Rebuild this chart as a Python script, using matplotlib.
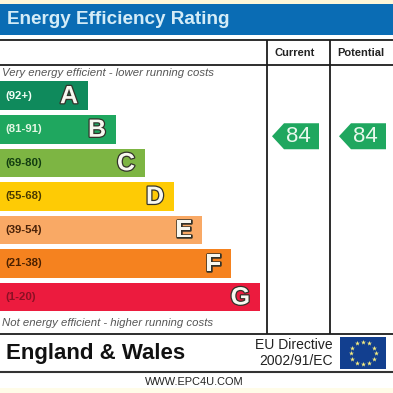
import numpy as np
import matplotlib
matplotlib.use('Agg')
import matplotlib.pyplot as plt
import matplotlib.patheffects as pe
from matplotlib.patches import Polygon, Rectangle

plt.rcParams['font.family'] = ['Liberation Sans', 'DejaVu Sans']

# ------------------------------------------------------- #

letters = ['A', 'B', 'C', 'D', 'E', 'F', 'G']
ranges = ['(92+)', '(81-91)', '(69-80)', '(55-68)', '(39-54)', '(21-38)', '(1-20)']
bar_lengths = [88, 116, 145, 174, 202, 231, 260]
bar_colors = ['#0f8a5c', '#1fa75f', '#7db543', '#fecb05', '#f9a965', '#f5821f', '#ec1b3e']
range_colors = ['#f2fff5', '#e4f7e4', '#123d10', '#4a3a00', '#4a2208', '#4a2000', '#8a1024']
current_rating = 84
potential_rating = 84

# ------------------------------------------------------- #

fig = plt.figure(figsize=(3.93, 3.93), dpi=100, facecolor='white')
ax = fig.add_axes([0, 0, 1, 1])
ax.set_xlim(0, 393)
ax.set_ylim(393, 0)
ax.axis('off')

# strips along the top and bottom, then the header
ax.add_patch(Rectangle((0, 0), 393, 3.5, color='#fdf6d8', lw=0))
ax.add_patch(Rectangle((0, 388), 393, 5, color='#fffce8', lw=0))
ax.add_patch(Rectangle((0, 3.5), 393, 31.5, color='#0a6cb4', lw=0))
ax.text(7, 20, 'Energy Efficiency Rating', color='#d4ecf7', fontsize=13.6,
        fontweight='bold', va='center', ha='left')

# table lines
for y in [40, 64.5, 334]:
    ax.plot([0, 393], [y, y], color='#1c1c1c', lw=1.3, solid_capstyle='butt')
ax.plot([0, 393], [372, 372], color='#333333', lw=1.5, solid_capstyle='butt')
for x in [266.5, 329.5]:
    ax.plot([x, x], [40, 334], color='#1c1c1c', lw=1.3, solid_capstyle='butt')

ax.text(295, 52.5, 'Current', fontsize=8, fontweight='bold', ha='center', va='center', color='#222222')
ax.text(360.5, 52.5, 'Potential', fontsize=8, fontweight='bold', ha='center', va='center', color='#222222')

ax.text(2, 73.5, 'Very energy efficient - lower running costs', fontsize=8.2, style='italic',
        color='#555555', va='center', ha='left')
ax.text(2, 323, 'Not energy efficient - higher running costs', fontsize=8.2, style='italic',
        color='#555555', va='center', ha='left')

# rating bands
y_pos = 95.7 + 33.55 * np.arange(len(letters))
ax.barh(y_pos, bar_lengths, height=28.5, color=bar_colors, left=0, lw=0)

for i in range(len(letters)):
    ax.text(5, y_pos[i], ranges[i], fontsize=8.2, fontweight='bold', color=range_colors[i],
            va='center', ha='left')
    ax.text(bar_lengths[i] - 10, y_pos[i] + 0.5, letters[i], fontsize=18, fontweight='bold',
            color='#f8f8f0', va='center', ha='right',
            path_effects=[pe.withStroke(linewidth=1.8, foreground='#33332a')])


# arrow with the score, drawn in the band the score falls in
def score_arrow(x_left, x_right, score):
    yc = y_pos[1] + 7
    ax.add_patch(Polygon([(x_left, yc), (x_left + 12, yc - 13), (x_right, yc - 13),
                          (x_right, yc + 13), (x_left + 12, yc + 13)],
                         closed=True, color=bar_colors[1], lw=0))
    ax.text((x_left + x_right) / 2 + 3, yc + 0.5, str(score), fontsize=16, color='#e8f8ec',
            ha='center', va='center')


score_arrow(272, 319, current_rating)
score_arrow(339, 386, potential_rating)

# footer
ax.text(6, 353.5, 'England & Wales', fontsize=16, fontweight='bold', color='#111111',
        va='center', ha='left')
ax.text(333, 345, 'EU Directive', fontsize=10, color='#222222', va='center', ha='right')
ax.text(333, 361, '2002/91/EC', fontsize=10, color='#222222', va='center', ha='right')

# EU flag
ax.add_patch(Rectangle((340, 337), 46, 32, color='#123f8f', lw=0))
angles = np.radians(np.arange(0, 360, 30))
ax.scatter(363 + 12.5 * np.cos(angles), 353 + 11 * np.sin(angles), s=14, marker='*',
           color='#f5ec80', lw=0, zorder=3)

ax.text(194.5, 382, 'WWW.EPC4U.COM', fontsize=7.9, color='#222222', ha='center', va='center')

plt.savefig('out.png', dpi=100, facecolor='white')
plt.close()
